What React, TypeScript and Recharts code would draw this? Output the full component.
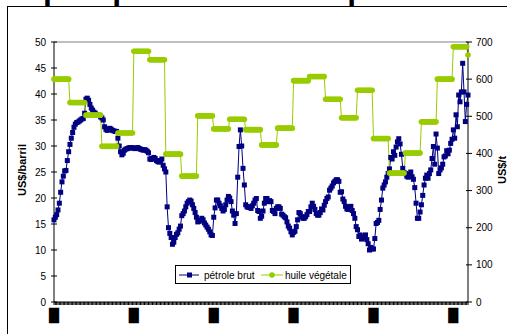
import React from "react";
import { LineChart, Line, XAxis, YAxis, ReferenceLine } from "recharts";

// monthly crude oil price, US$/barril, one array per year (Jan..Dec)
const years = [
  1979, 1980, 1981, 1982, 1983, 1984, 1985, 1986, 1987, 1988, 1989, 1990, 1991,
  1992, 1993, 1994, 1995, 1996, 1997, 1998, 1999, 2000, 2001, 2002, 2003, 2004,
];
const monthNames = ["janv", "févr", "mars", "avr", "mai", "juin", "juil", "août", "sept", "oct", "nov", "déc"];

const brut79 = [15.8, 16.3, 16.8, 17.7, 19.0, 21.1, 23.1, 24.2, 25.2, 25.3, 27.2, 28.9];
const brut80 = [30.3, 31.5, 32.6, 33.6, 34.2, 34.5, 34.6, 34.8, 35.0, 35.2, 35.3, 36.3];
const brut81 = [39.0, 39.2, 38.8, 38.0, 37.3, 36.9, 36.5, 36.3, 36.0, 35.9, 35.9, 35.6];
const brut82 = [35.4, 35.0, 33.7, 33.2, 33.0, 33.3, 33.4, 33.2, 33.0, 32.9, 32.8, 32.8];
const brut83 = [31.5, 30.0, 28.9, 28.3, 28.6, 29.2, 29.4, 29.5, 29.6, 29.7, 29.7, 29.6];
const brut84 = [29.6, 29.5, 29.6, 29.7, 29.5, 29.4, 29.3, 29.2, 29.3, 29.2, 29.0, 28.7];
const brut85 = [27.5, 27.4, 27.6, 27.8, 27.6, 27.2, 27.0, 26.9, 27.2, 27.5, 26.3, 25.6];
const brut86 = [25.0, 18.3, 14.3, 13.2, 12.4, 11.1, 11.5, 12.4, 13.0, 13.3, 14.0, 14.6];
const brut87 = [16.6, 17.0, 17.5, 18.3, 19.0, 19.3, 19.6, 19.4, 18.7, 18.0, 17.2, 16.3];
const brut88 = [15.4, 15.5, 15.7, 16.1, 15.8, 15.2, 14.8, 14.4, 14.0, 13.5, 12.9, 12.8];
const brut89 = [16.3, 18.1, 19.6, 19.6, 19.0, 18.5, 18.0, 17.5, 17.8, 18.7, 19.6, 20.3];
const brut90 = [20.0, 19.3, 17.5, 16.7, 15.1, 17.0, 24.0, 29.9, 33.1, 30.0, 25.7, 22.5];
const brut91 = [18.7, 18.3, 18.2, 18.3, 18.0, 18.5, 19.0, 19.6, 19.9, 17.6, 17.4, 16.1];
const brut92 = [16.5, 17.5, 19.0, 19.9, 19.9, 19.3, 19.5, 19.3, 17.6, 17.4, 17.0, 18.0];
const brut93 = [18.3, 18.3, 18.0, 16.9, 16.7, 16.4, 16.2, 15.4, 14.6, 14.2, 13.5, 12.9];
const brut94 = [13.4, 13.6, 14.5, 15.8, 17.2, 17.0, 16.4, 16.1, 16.1, 16.4, 16.8, 17.4];
const brut95 = [17.4, 18.3, 19.0, 18.4, 17.8, 17.0, 16.7, 16.7, 17.2, 17.9, 17.7, 18.6];
const brut96 = [19.3, 19.9, 20.2, 21.5, 21.9, 22.3, 22.9, 23.2, 23.5, 23.5, 23.2, 21.1];
const brut97 = [21.2, 19.8, 19.3, 18.4, 17.9, 17.8, 18.3, 18.4, 17.6, 17.0, 16.1, 14.5];
const brut98 = [13.9, 12.6, 12.9, 12.1, 12.3, 12.6, 12.9, 12.0, 11.2, 10.0, 10.5, 10.2];
const brut99 = [10.2, 12.2, 15.1, 15.3, 15.7, 17.8, 19.6, 21.9, 22.5, 23.1, 24.0, 24.7];
const brut00 = [25.6, 27.8, 27.5, 28.9, 28.2, 29.8, 30.8, 31.4, 30.4, 28.4, 25.7, 24.9];
const brut01 = [24.7, 24.2, 24.0, 24.6, 25.0, 24.1, 23.6, 22.0, 19.0, 16.1, 16.1, 17.3];
const brut02 = [18.7, 20.5, 22.5, 23.8, 24.4, 23.8, 24.7, 25.4, 27.6, 29.9, 26.5, 32.3];
const brut03 = [29.6, 24.7, 25.4, 25.8, 26.5, 27.9, 28.1, 29.1, 28.5, 29.2, 30.5, 31.3];
const brut04 = [33.1, 31.5, 36.0, 33.7, 39.8, 38.5, 40.4, 45.9, 40.4, 34.7, 38.0, 39.8];

const brutByYear = [
  brut79, brut80, brut81, brut82, brut83, brut84, brut85, brut86, brut87, brut88, brut89, brut90, brut91,
  brut92, brut93, brut94, brut95, brut96, brut97, brut98, brut99, brut00, brut01, brut02, brut03, brut04,
];

// vegetable oil, US$/t, annual price (same value every month of the year)
const huileByYear = [
  600, 537, 503, 419, 455, 675, 652, 398, 339, 501, 466, 492, 464,
  423, 468, 596, 607, 546, 496, 570, 440, 347, 401, 485, 600, 687,
];
const huileLastMonth = 665;

const leftTicks = [0, 5, 10, 15, 20, 25, 30, 35, 40, 45, 50];
const rightTicks = [0, 100, 200, 300, 400, 500, 600, 700];

const data: { month: string; brut: number; huile: number }[] = [];
years.forEach((y, yi) => {
  monthNames.forEach((m, mi) => {
    data.push({
      month: `${m}-${String(y).slice(2)}`,
      brut: brutByYear[yi][mi],
      huile: huileByYear[yi],
    });
  });
});
data[data.length - 1].huile = huileLastMonth;

const NAVY = "#000080";
const GREEN = "#99CC00";
const FONT = "'Liberation Sans', Arial, sans-serif";

function SquareDot(props: any) {
  const { cx, cy, index } = props;
  if (cx == null || cy == null) return <g key={`b-${index}`} />;
  return <rect key={`b-${index}`} x={cx - 2.5} y={cy - 2.5} width={5} height={5} fill={NAVY} />;
}

function RoundDot(props: any) {
  const { cx, cy, index } = props;
  if (cx == null || cy == null) return <g key={`h-${index}`} />;
  return <circle key={`h-${index}`} cx={cx} cy={cy} r={2.8} fill={GREEN} />;
}

// the date labels come out as solid black blocks in the original
function MonthTick(props: any) {
  const { x, index } = props;
  if (index % 60 !== 0) return <g />;
  return (
    <text x={x} y={320} textAnchor="middle" fontFamily="'DejaVu Sans'" fontSize={13} fill="#000">
      █
    </text>
  );
}

function LegendBox() {
  return (
    <div
      style={{
        position: "absolute",
        left: 175,
        top: 265,
        width: 174,
        height: 17,
        border: "1px solid #000",
        background: "#fff",
        fontFamily: FONT,
        fontSize: 10,
      }}
    >
      <svg width={174} height={17} style={{ position: "absolute", left: 0, top: 0 }}>
        <line x1={3} y1={9} x2={23} y2={9} stroke={NAVY} />
        <rect x={11} y={6.5} width={5} height={5} fill={NAVY} />
        <text x={28} y={12.5} fontFamily={FONT} fontSize={10} fill="#000">pétrole brut</text>
        <line x1={85} y1={9} x2={107} y2={9} stroke={GREEN} />
        <circle cx={96} cy={9} r={2.8} fill={GREEN} />
        <text x={109} y={12.5} fontFamily={FONT} fontSize={10} fill="#000">huile végétale</text>
      </svg>
    </div>
  );
}

export default function App() {
  return (
    <div
      style={{
        position: "fixed",
        left: 0,
        top: 0,
        width: 507,
        height: 334,
        overflow: "hidden",
        background: "#fff",
      }}
    >
      <LineChart
        width={507}
        height={334}
        data={data}
        margin={{ top: 42, right: 9, bottom: 7, left: 24 }}
      >
        <XAxis
          dataKey="month"
          interval={0}
          tickSize={3}
          tick={<MonthTick />}
          tickLine={{ stroke: "#000" }}
          axisLine={{ stroke: "#000" }}
          height={25}
        />
        <YAxis
          yAxisId="left"
          domain={[0, 50]}
          ticks={leftTicks}
          tickSize={6}
          width={30}
          tick={{ fontSize: 10, fill: "#000", fontFamily: FONT }}
          tickLine={{ stroke: "#000", transform: "translate(3,0)" }}
          axisLine={{ stroke: "#000" }}
        />
        <YAxis
          yAxisId="right"
          orientation="right"
          domain={[0, 700]}
          ticks={rightTicks}
          tickSize={6}
          width={30}
          tick={{ fontSize: 10, fill: "#000", fontFamily: FONT }}
          tickLine={{ stroke: "#000", transform: "translate(-2,0)" }}
          axisLine={{ stroke: "#000" }}
        />
        <ReferenceLine yAxisId="left" y={50} stroke="#808080" />
        <Line
          yAxisId="left"
          dataKey="brut"
          name="pétrole brut"
          stroke={NAVY}
          strokeWidth={1}
          dot={SquareDot}
          activeDot={false}
          isAnimationActive={false}
        />
        <Line
          yAxisId="right"
          dataKey="huile"
          name="huile végétale"
          stroke={GREEN}
          strokeWidth={1}
          dot={RoundDot}
          activeDot={false}
          isAnimationActive={false}
        />
      </LineChart>
      <LegendBox />
      <svg
        width={507}
        height={334}
        style={{ position: "absolute", left: 0, top: 0, pointerEvents: "none" }}
      >
        <text x={43} y={-0.5} fontFamily={FONT} fontWeight="bold" fontSize={32} fill="#000">
          prospects économiques
        </text>
        <line x1={7.5} y1={6} x2={7.5} y2={334} stroke="#000" />
        <line x1={7} y1={6.5} x2={507} y2={6.5} stroke="#000" />
        <text
          transform="translate(26,170) rotate(-90)"
          textAnchor="middle"
          fontFamily={FONT}
          fontWeight="bold"
          fontSize={11}
          fill="#000"
        >
          US$/barril
        </text>
        <text
          transform="translate(506,170) rotate(-90)"
          textAnchor="middle"
          fontFamily={FONT}
          fontWeight="bold"
          fontSize={11}
          fill="#000"
        >
          US$/t
        </text>
      </svg>
    </div>
  );
}
